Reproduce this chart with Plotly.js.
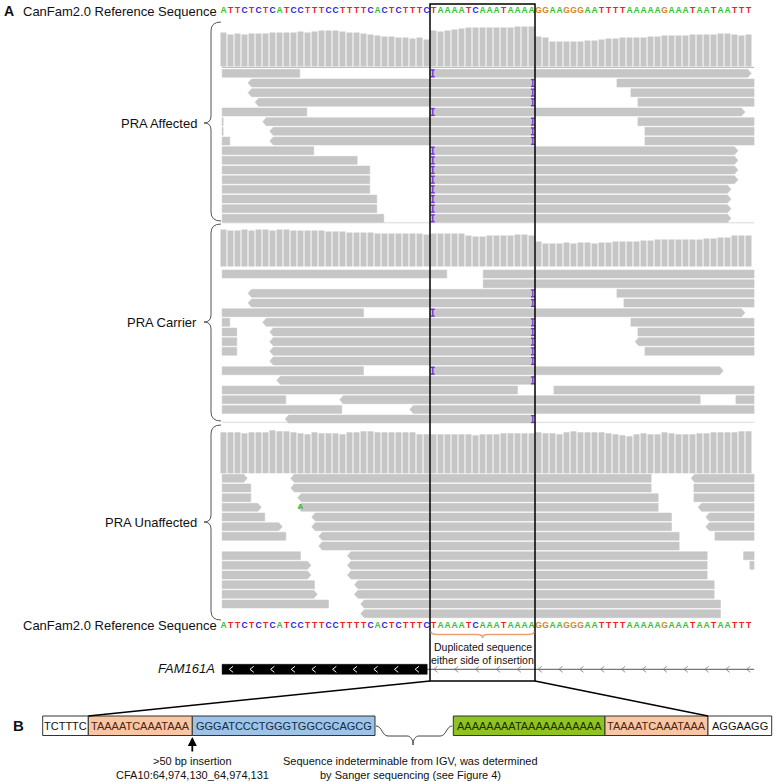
<!DOCTYPE html>
<html><head><meta charset="utf-8">
<script src="https://cdn.plot.ly/plotly-3.0.1.min.js"></script>
<style>html,body{margin:0;padding:0;background:#fff}#chart{width:775px;height:782px}</style>
</head><body><div id="chart"></div>
<script>
// ---------- DATA ----------
const refSeq = "ATTCTCTCATCCTTTCCTTTTCACTCTTTC" + "TAAAATCAAATAAAA" + "GGAAGGGAATTTTAAAAAGAAATAATAATTT";
const refLabel = "CanFam2.0 Reference Sequence";
const groupLabels = ["PRA Affected", "PRA Carrier", "PRA Unaffected"];

// coverage depth per base (relative units)
const covAffected = [34,32,33,32,33,33,33,34,34,34,34,35,34,35,36,36,36,35,34,34,33,32,31,30,30,29,29,28,29,27,
  36,35,36,37,38,39,39,39,39,39,39,39,40,40,40,
  30,29,25,25,25,25,25,26,26,27,28,28,29,29,29,29,30,30,31,31,31,31,32,32,32,32,33,33,32,31,32];
const covCarrier = [37,36,36,37,36,37,37,36,37,37,36,36,36,36,36,35,35,35,34,34,34,34,33,33,33,33,33,33,33,32,
  33,33,33,33,33,31,30,30,31,31,31,31,32,32,31,
  25,23,23,23,24,23,24,24,23,24,24,25,25,25,25,26,26,27,27,27,27,27,27,27,28,28,29,29,31,31,31];
const covUnaffected = [41,41,41,40,41,41,41,43,42,42,41,40,39,41,40,40,40,39,41,41,42,42,41,41,41,41,41,41,39,39,
  39,39,39,39,39,39,38,39,39,39,40,40,40,40,40,
  41,40,40,39,41,42,41,41,41,41,40,39,38,37,39,40,39,39,41,40,39,39,39,40,40,41,41,41,41,42,42];

// reads: [start base, end base, row, strand]
const readsAffected = [
  [0.3,11.4,0,''],[30,75.9,0,'+'],
  [4,44.7,1,'-'],[56.7,76.3,1,''],
  [4,44.7,2,'-'],[58.7,76.3,2,''],
  [5,44.7,3,'-'],[59.7,76.3,3,''],
  [0.3,12.4,4,''],[30,75,4,'+'],
  [0.3,0.45,5,''],[6.1,44.7,5,'-'],[59.7,76.3,5,''],
  [0.3,0.45,6,''],[7.1,44.7,6,'-'],[60.7,76.3,6,''],
  [0.3,1.4,7,''],[7.1,44.7,7,'-'],[60.7,76.3,7,''],
  [0.3,13.4,8,''],[30,74,8,'+'],
  [0.3,19.6,9,''],[30,74,9,'+'],
  [0.3,21.4,10,''],[30,74,10,'+'],
  [0.3,21.4,11,''],[30,74,11,'+'],
  [0.3,21.4,12,''],[30,73,12,'+'],
  [0.3,22.4,13,''],[30,73,13,'+'],
  [0.3,22.4,14,''],[30,73,14,'+'],
  [0.3,23.4,15,''],[30,73,15,'+']
];
const insAffected = [[30.4,0],[44.7,1],[44.7,2],[44.7,3],[30.4,4],[44.7,5],[44.7,6],[44.7,7],
  [30.4,8],[30.4,9],[30.4,10],[30.4,11],[30.4,12],[30.4,13],[30.4,14],[30.4,15]];

const readsCarrier = [
  [0.3,32.4,0,''],[37.6,76.3,0,''],
  [37.6,76.3,1,''],
  [4,44.7,2,'-'],[56.7,76.3,2,''],
  [4,44.7,3,'-'],[57.7,76.3,3,''],
  [0.3,20.5,4,''],[30,75,4,'+'],
  [0.3,1.4,5,''],[6.1,44.7,5,'-'],[58.7,76.3,5,''],
  [0.3,2.4,6,''],[7.1,44.7,6,'-'],[59.7,76.3,6,''],
  [0.3,2.4,7,''],[7.1,44.7,7,'-'],[59.3,76.3,7,'-'],
  [0.3,2.4,8,''],[7.1,44.7,8,'-'],[60.7,76.3,8,''],
  [7.1,44.7,9,'-'],
  [0.3,20.5,10,''],[30,71.9,10,'+'],
  [8.1,44.7,11,'-'],
  [0.3,42.5,12,''],[47.7,76.3,12,''],
  [0.3,9.4,13,''],[17.1,68.6,13,'-'],[73.7,76.3,13,''],
  [0.3,17.4,14,''],[27.1,76.3,14,'-'],
  [9.3,44.7,15,'-']
];
const insCarrier = [[44.7,2],[44.7,3],[30.4,4],[44.7,5],[44.7,6],[44.7,7],[44.7,8],[44.7,9],[30.4,10],[44.7,11],[44.7,15]];

const readsUnaffected = [
  [0.3,3.9,0,'+'],[10.1,61.6,0,'-'],[67.3,76.3,0,'-'],
  [0.3,4.4,1,''],[10.1,61.6,1,'-'],[67.7,76.3,1,''],
  [0.3,4.4,2,''],[11.1,62.6,2,'-'],[67.7,76.3,2,''],
  [0.3,5.9,3,'+'],[11.1,62.6,3,'-'],[68.3,76.3,3,'-'],
  [0.3,6.4,4,''],[13.1,64.5,4,'-'],[69.4,76.3,4,'-'],
  [0.3,8.9,5,'+'],[13.1,64.5,5,'-'],[69.4,76.3,5,'-'],
  [0.3,9.4,6,''],[14.1,65.6,6,'-'],[70.7,76.3,6,''],
  [14.1,65.6,7,'-'],
  [0.3,11.5,8,''],[18.2,69.6,8,'-'],[74.8,76.3,8,''],
  [0.3,13,9,'+'],[18.2,69.6,9,'-'],[75.7,76.3,9,''],
  [0.3,13,10,'+'],[18.2,69.6,10,'-'],
  [0.3,13.5,11,''],[19.2,70.6,11,'-'],
  [0.3,13.9,12,'+'],[19.2,70.6,12,'-'],
  [0.3,15.5,13,''],[20.1,71.5,13,'-'],
  [20.1,71.5,14,'-']
];
const insUnaffected = [];
const mismatchUnaffected = [[11,3,'A']];

const geneName = "FAM161A";
const geneExon = [0.3, 29.6];
const geneEnd = 76.3;
const dupRegion = [30, 45];
const dupLabel = ["Duplicated sequence", "either side of insertion"];

const partBText = ["TCTTTC", "TAAAATCAAATAAA", "GGGATCCCTGGGTGGCGCAGCG", "AAAAAAAATAAAAAAAAAAA", "TAAAATCAAATAAA", "AGGAAGG"];
const insertionNote = [">50 bp insertion", "CFA10:64,974,130_64,974,131"];
const sangerNote = ["Sequence indeterminable from IGV, was determined", "by Sanger sequencing (see Figure 4)"];

// ---------- LAYOUT / STYLE ----------
const W = 775, H = 782;
const PX0 = 220, PXB = 7;              // base -> pixel mapping of the x axis
const toPx = b => PX0 + PXB * b;
const baseColors = {A:'#2fc42f', C:'#2626e6', G:'#d8821e', T:'#f02020'};
const readColor = '#c6c6c6';
const insColor = '#7634d6';
const ROW = 9.67, READH = 8;
const tracks = [
  {label:groupLabels[0], cov:covAffected, reads:readsAffected, ins:insAffected, mism:[], covBase:66.5, readTop:69.3, brace:[22,123,221]},
  {label:groupLabels[1], cov:covCarrier, reads:readsCarrier, ins:insCarrier, mism:[], covBase:266.5, readTop:270, brace:[224,322,421]},
  {label:groupLabels[2], cov:covUnaffected, reads:readsUnaffected, ins:insUnaffected, mism:mismatchUnaffected, covBase:473.3, readTop:474.3, brace:[425,522,620]}
];
const FONT = 'Liberation Sans, Arial, sans-serif';

const traces = [];
const shapes = [];
const annotations = [];

// separator lines (behind)
[222.8, 422.3].forEach(y => traces.push({type:'scatter', mode:'lines', x:[0.3,76.3], y:[y,y], line:{color:'#d9d9d9', width:1}, hoverinfo:'skip', showlegend:false}));
traces.push({type:'scatter', mode:'lines', x:[0.3,76.3], y:[67.4,67.4], line:{color:'#b8b8b8', width:1}, hoverinfo:'skip', showlegend:false});

tracks.forEach(t => {
  // coverage
  traces.push({type:'bar', x:t.cov.map((_, i) => i + 0.5), y:t.cov.map(v => -v), base:t.covBase, width:0.86,
    marker:{color:readColor, line:{width:0}}, hoverinfo:'skip', showlegend:false});
  // reads
  const xs = [], ys = [];
  const a = 0.5;
  t.reads.forEach(([s, e, r, st]) => {
    const top = t.readTop + r * ROW, bot = top + READH, mid = top + READH / 2;
    let px, py;
    if (st === '+') { px = [s, e - a, e, e - a, s, s]; py = [top, top, mid, bot, bot, top]; }
    else if (st === '-') { px = [s + a, e, e, s + a, s, s + a]; py = [top, top, bot, bot, mid, top]; }
    else { px = [s, e, e, s, s]; py = [top, top, bot, bot, top]; }
    xs.push(...px, null); ys.push(...py, null);
  });
  traces.push({type:'scatter', mode:'lines', x:xs, y:ys, fill:'toself', fillcolor:readColor,
    line:{color:readColor, width:0.5}, hoverinfo:'skip', showlegend:false});
  // insertions
  if (t.ins.length) {
    const ix = [], iy = [];
    t.ins.forEach(([b, r]) => {
      const top = t.readTop + r * ROW + 0.6, bot = top + READH - 1.2;
      ix.push(b, b, null, b - 0.28, b + 0.28, null, b - 0.28, b + 0.28, null);
      iy.push(top, bot, null, top, top, null, bot, bot, null);
    });
    traces.push({type:'scatter', mode:'lines', x:ix, y:iy, line:{color:insColor, width:1.4}, hoverinfo:'skip', showlegend:false});
  }
  // mismatches
  if (t.mism.length) {
    traces.push({type:'scatter', mode:'text', x:t.mism.map(m => m[0] + 0.5), y:t.mism.map(m => t.readTop + m[1] * ROW + READH / 2),
      text:t.mism.map(m => m[2]), textfont:{family:FONT, size:8, weight:'bold', color:t.mism.map(m => baseColors[m[2]])},
      hoverinfo:'skip', showlegend:false});
  }
  // group label and brace
  annotations.push({xref:'x2', yref:'y', x:199, y:t.brace[1], text:t.label, showarrow:false, xanchor:'right', yanchor:'middle',
    font:{family:FONT, size:13, color:'#111'}});
  const [tp, m, bt] = t.brace;
  shapes.push({type:'path', xref:'x2', yref:'y', line:{color:'#555', width:1},
    path:`M 221 ${tp} Q 211 ${tp} 211 ${tp+9} L 211 ${m-7} Q 211 ${m} 204 ${m} Q 211 ${m} 211 ${m+7} L 211 ${bt-9} Q 211 ${bt} 221 ${bt}`});
});

// reference sequence rows
[11, 625.5].forEach(y => {
  traces.push({type:'scatter', mode:'text', x:refSeq.split('').map((_, i) => i + 0.5), y:refSeq.split('').map(() => y),
    text:refSeq.split(''), textfont:{family:FONT, size:8.5, weight:'bold', color:refSeq.split('').map(c => baseColors[c])},
    hoverinfo:'skip', showlegend:false, cliponaxis:false});
  annotations.push({xref:'x2', yref:'y', x:218.5, y:y, text:refLabel, showarrow:false, xanchor:'right', yanchor:'middle',
    font:{family:FONT, size:13, color:'#111'}});
});

// gene track
const GY = 669.3;
traces.push({type:'scatter', mode:'lines', x:[geneExon[1], geneEnd], y:[GY, GY], line:{color:'#555', width:1}, hoverinfo:'skip', showlegend:false});
traces.push({type:'scatter', mode:'lines', x:[geneExon[0], geneExon[1], geneExon[1], geneExon[0], geneExon[0]], y:[664.3, 664.3, 674.3, 674.3, 664.3],
  fill:'toself', fillcolor:'#000', line:{color:'#000', width:0.5}, hoverinfo:'skip', showlegend:false});
function chevrons(start, step, n, color, w) {
  const cx = [], cy = [];
  for (let k = 0; k < n; k++) { const c = start + k * step; cx.push(c + 0.27, c - 0.27, c + 0.27, null); cy.push(GY - 3, GY, GY + 3, null); }
  traces.push({type:'scatter', mode:'lines', x:cx, y:cy, line:{color:color, width:w}, hoverinfo:'skip', showlegend:false});
}
chevrons(1.6, 2.95, 10, '#fff', 1);
chevrons(30.8, 2.98, 16, '#777', 0.8);
annotations.push({xref:'x2', yref:'y', x:216.5, y:668.5, text:geneName, showarrow:false, xanchor:'right', yanchor:'middle',
  font:{family:FONT, size:13, color:'#111', style:'italic'}});

// duplicated-region box and brace
const bx0 = toPx(dupRegion[0]), bx1 = toPx(dupRegion[1]);
shapes.push({type:'rect', xref:'x2', yref:'y', x0:bx0, x1:bx1, y0:4, y1:681, line:{color:'#000', width:1.5}});
const bm = (bx0 + bx1) / 2;
shapes.push({type:'path', xref:'x2', yref:'y', line:{color:'#f0a070', width:1.5},
  path:`M ${bx0+1} 631.5 C ${bx0+1} 634 ${bx0+3} 634.5 ${bx0+7} 634.5 L ${bm-5} 634.5 C ${bm-2} 634.5 ${bm} 635.5 ${bm} 638 C ${bm} 635.5 ${bm+2} 634.5 ${bm+5} 634.5 L ${bx1-7} 634.5 C ${bx1-3} 634.5 ${bx1-1} 634 ${bx1-1} 631.5`});
annotations.push({xref:'x2', yref:'y', x:bm, y:647, text:dupLabel[0], showarrow:false, font:{family:FONT, size:10.5, color:'#111'}});
annotations.push({xref:'x2', yref:'y', x:bm, y:659.5, text:dupLabel[1], showarrow:false, font:{family:FONT, size:10.5, color:'#111'}});

// part B
const bEdges = [[42.7, 88.3], [88.3, 192.3], [192.3, 375], [453.3, 605], [605, 708], [708, 771.7]];
const bFill = ['#ffffff', '#f9c6a5', '#9dc3e6', '#8fc31f', '#f9c6a5', '#ffffff'];
const bTextColor = ['#111', '#4a2410', '#142a4a', '#1c2a05', '#4a2410', '#111'];
const BY0 = 716, BY1 = 735.5;
partBText.forEach((txt, i) => {
  const [x0, x1] = bEdges[i];
  shapes.push({type:'rect', xref:'x2', yref:'y', x0:x0, x1:x1, y0:BY0, y1:BY1, fillcolor:bFill[i], line:{color:'#333', width:1}});
  annotations.push({xref:'x2', yref:'y', x:(x0 + x1) / 2, y:(BY0 + BY1) / 2 + 0.5, text:txt, showarrow:false,
    font:{family:FONT, size:11, color:bTextColor[i]}});
});
// zoom lines
shapes.push({type:'line', xref:'x2', yref:'y', x0:bx0, y0:681, x1:bEdges[1][0], y1:BY0, line:{color:'#000', width:1.5}});
shapes.push({type:'line', xref:'x2', yref:'y', x0:bx1, y0:681, x1:bEdges[4][1], y1:BY0, line:{color:'#000', width:1.5}});
// gap brace
const g0 = bEdges[2][1] + 1, g1 = bEdges[3][0] - 1, gm = 413;
shapes.push({type:'path', xref:'x2', yref:'y', line:{color:'#444', width:1},
  path:`M ${g0} 726 C ${g0+6} 726 ${g0+6} 736 ${g0+12} 736 L ${gm-6} 736 C ${gm-2} 736 ${gm} 740 ${gm} 745 C ${gm} 740 ${gm+2} 736 ${gm+6} 736 L ${g1-12} 736 C ${g1-6} 736 ${g1-6} 726 ${g1} 726`});
// insertion arrow
annotations.push({xref:'x2', yref:'y', axref:'x2', ayref:'y', x:bEdges[1][1], y:737, ax:bEdges[1][1], ay:753, text:'',
  showarrow:true, arrowhead:2, arrowsize:1, arrowwidth:1.8, arrowcolor:'#000'});
insertionNote.forEach((t, i) => annotations.push({xref:'x2', yref:'y', x:bEdges[1][1], y:761 + i * 13.5, text:t, showarrow:false,
  font:{family:FONT, size:11, color:'#111'}}));
sangerNote.forEach((t, i) => annotations.push({xref:'x2', yref:'y', x:410, y:761 + i * 13.5, text:t, showarrow:false,
  font:{family:FONT, size:11, color:'#111'}}));

// panel letters
annotations.push({xref:'x2', yref:'y', x:9, y:11, text:'<b>A</b>', showarrow:false, font:{family:FONT, size:14, color:'#111'}});
annotations.push({xref:'x2', yref:'y', x:18, y:725.5, text:'<b>B</b>', showarrow:false, font:{family:FONT, size:15, color:'#111'}});

// dummy trace to activate x2
traces.push({type:'scatter', mode:'markers', x:[0], y:[-10], xaxis:'x2', marker:{size:1, color:'rgba(0,0,0,0)'}, hoverinfo:'skip', showlegend:false});

const layout = {
  width:W, height:H, margin:{l:0, r:0, t:0, b:0, pad:0},
  paper_bgcolor:'#fff', plot_bgcolor:'#fff', barmode:'overlay', showlegend:false,
  xaxis:{range:[(0 - PX0) / PXB, (W - PX0) / PXB], visible:false, fixedrange:true, domain:[0, 1]},
  xaxis2:{range:[0, W], overlaying:'x', visible:false, fixedrange:true},
  yaxis:{range:[H, 0], visible:false, fixedrange:true, domain:[0, 1]},
  shapes:shapes, annotations:annotations
};
Plotly.newPlot('chart', traces, layout, {displayModeBar:false, staticPlot:true});
</script></body></html>
